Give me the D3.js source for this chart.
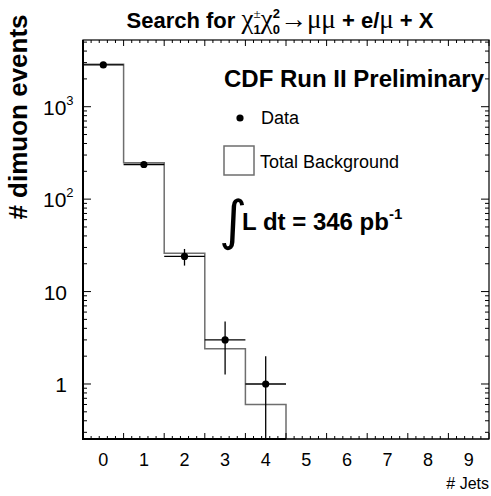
<!DOCTYPE html>
<html>
<head>
<meta charset="utf-8">
<script src="https://cdn.jsdelivr.net/npm/d3@7"></script>
<style>
  html, body { margin: 0; padding: 0; background: #fff; }
  svg { display: block; }
</style>
</head>
<body>
<script>
// Jet multiplicity bins, observed dimuon events and expected total background
const jetBins = [0, 1, 2, 3, 4, 5, 6, 7, 8, 9];
const dataCounts = [2830, 237, 24, 3, 1, 0, 0, 0, 0, 0];
const backgroundCounts = [2880, 248, 26, 2.4, 0.6, 0, 0, 0, 0, 0];
const xTickLabels = ["0", "1", "2", "3", "4", "5", "6", "7", "8", "9"];
const yMajorTicks = [1, 10, 100, 1000];
const yTickLabels = [{base: "1", exp: ""}, {base: "10", exp: ""}, {base: "10", exp: "2"}, {base: "10", exp: "3"}];

const W = 491, H = 496;
const frame = {left: 83, right: 489, top: 40, bottom: 439};
const sans = "'Liberation Sans', Arial, Helvetica, sans-serif";
const serif = "'Liberation Serif', 'Times New Roman', serif";
const bgColor = "#6e6e6e";

const svg = d3.select("body").append("svg").attr("width", W).attr("height", H);

const x = d3.scaleLinear().domain([-0.5, 9.5]).range([frame.left, frame.right]);
const y = d3.scaleLog().domain([0.254, 5270]).range([frame.bottom, frame.top]);
const yMin = y.domain()[0];
const yc = v => (v > yMin ? y(v) : frame.bottom);

// ---- background histogram (step outline) ----
const pts = [[x(-0.5), frame.bottom]];
jetBins.forEach((b, i) => {
  const v = yc(backgroundCounts[i]);
  pts.push([x(b - 0.5), v], [x(b + 0.5), v]);
});
pts.push([x(9.5), frame.bottom]);
svg.append("path")
  .attr("d", d3.line()(pts))
  .attr("fill", "none")
  .attr("stroke", bgColor)
  .attr("stroke-width", 1.5);

// ---- frame and ticks ----
svg.append("rect")
  .attr("x", frame.left).attr("y", frame.top)
  .attr("width", frame.right - frame.left).attr("height", frame.bottom - frame.top)
  .attr("fill", "none").attr("stroke", "#000").attr("stroke-width", 1.2);
svg.append("line").attr("x1", frame.left).attr("x2", frame.left)
  .attr("y1", frame.top).attr("y2", frame.bottom + 1)
  .attr("stroke", "#000").attr("stroke-width", 2);
svg.append("line").attr("x1", frame.left - 1).attr("x2", x(4.5))
  .attr("y1", frame.bottom).attr("y2", frame.bottom)
  .attr("stroke", "#000").attr("stroke-width", 2);

const ticks = svg.append("g").attr("stroke", "#000").attr("stroke-width", 1);
// x: major every bin edge, minor every 0.2
d3.range(0, 51).forEach(k => {
  const v = -0.5 + k * 0.2;
  const major = k % 5 === 0;
  const len = major ? 6 : 3;
  const px = x(v);
  ticks.append("line").attr("x1", px).attr("x2", px)
    .attr("y1", frame.bottom).attr("y2", frame.bottom - len);
  ticks.append("line").attr("x1", px).attr("x2", px)
    .attr("y1", frame.top).attr("y2", frame.top + len);
});
// y: log ticks, major at decades, minor at 2..9
const yTicks = [];
[0.1, 1, 10, 100, 1000].forEach(d => {
  for (let m = 1; m <= 9; m++) {
    const v = d * m;
    if (v >= yMin && v <= y.domain()[1]) yTicks.push({v, major: m === 1});
  }
});
yTicks.forEach(t => {
  const py = y(t.v);
  const len = t.major ? 8 : 4;
  ticks.append("line").attr("x1", frame.left).attr("x2", frame.left + len)
    .attr("y1", py).attr("y2", py);
  ticks.append("line").attr("x1", frame.right).attr("x2", frame.right - len)
    .attr("y1", py).attr("y2", py);
});

// ---- tick labels ----
svg.append("g").selectAll("text").data(jetBins).join("text")
  .attr("x", d => x(d)).attr("y", 466)
  .attr("text-anchor", "middle")
  .attr("font-family", sans).attr("font-size", 18)
  .text((d, i) => xTickLabels[i]);

const yl = svg.append("g").attr("font-family", sans).attr("font-size", 21);
yMajorTicks.forEach((v, i) => {
  const lab = yTickLabels[i];
  const t = yl.append("text").attr("x", 67).attr("y", y(v) + 8)
    .attr("text-anchor", "end");
  t.append("tspan").text(lab.base);
  if (lab.exp) {
    t.attr("text-anchor", "start").attr("x", 43);
    t.append("tspan").attr("dy", -10).attr("font-size", 13).text(lab.exp);
  }
});

// ---- axis titles ----
svg.append("text")
  .attr("transform", "translate(27,117) rotate(-90)")
  .attr("text-anchor", "middle")
  .attr("font-family", sans).attr("font-weight", "bold").attr("font-size", 26)
  .text("# dimuon events");
svg.append("text")
  .attr("x", 489).attr("y", 489).attr("text-anchor", "end")
  .attr("font-family", sans).attr("font-size", 16)
  .text("# Jets");

// ---- data points with error bars ----
const dg = svg.append("g").attr("stroke", "#000").attr("stroke-width", 1.3);
jetBins.forEach((b, i) => {
  const n = dataCounts[i];
  if (n <= 0) return;
  const err = Math.sqrt(n);
  dg.append("line").attr("x1", x(b - 0.5)).attr("x2", x(b + 0.5))
    .attr("y1", y(n)).attr("y2", y(n));
  dg.append("line").attr("x1", x(b)).attr("x2", x(b))
    .attr("y1", y(n + err)).attr("y2", yc(n - err));
  svg.append("circle").attr("cx", x(b)).attr("cy", y(n)).attr("r", 3.6).attr("fill", "#000");
});

// ---- title: one text element, tspans placed from measured widths ----
function richText(parent, pieces, cx, baseline) {
  const probe = parent.append("text").attr("visibility", "hidden");
  const measure = (str, fam, weight, size) => {
    probe.attr("font-family", fam).attr("font-weight", weight).attr("font-size", size)
      .style("white-space", "pre").text(str);
    return probe.node().getComputedTextLength();
  };
  const spans = [];
  let cursor = 0;
  pieces.forEach(p => {
    if (p.t !== undefined) {
      const fam = p.serif ? serif : sans, wt = p.bold ? "bold" : "normal";
      spans.push({str: p.t, fam, wt, size: p.size, dx: cursor, y: baseline});
      cursor += measure(p.t, fam, wt, p.size);
    } else {
      const supFam = p.supSerif ? serif : sans, supWt = p.supBold ? "bold" : "normal";
      spans.push({str: p.sup, fam: supFam, wt: supWt, size: p.size, dx: cursor, y: baseline - p.up});
      spans.push({str: p.sub, fam: sans, wt: "bold", size: p.size, dx: cursor, y: baseline + p.down});
      cursor += Math.max(measure(p.sup, supFam, supWt, p.size), measure(p.sub, sans, "bold", p.size));
    }
  });
  probe.remove();
  const x0 = cx - cursor / 2;
  const t = parent.append("text").style("white-space", "pre");
  spans.forEach(s => {
    t.append("tspan").attr("x", x0 + s.dx).attr("y", s.y)
      .attr("font-family", s.fam).attr("font-weight", s.wt).attr("font-size", s.size)
      .text(s.str);
  });
}

richText(svg, [
  {t: "Search for ", bold: true, size: 22},
  {t: "\u03c7", serif: true, size: 27},
  {sup: "\u00b1", sub: "1", size: 13, up: 10, down: 6, supSerif: true},
  {t: "\u03c7", serif: true, size: 27},
  {sup: "2", sub: "0", size: 13, up: 10, down: 6, supBold: true},
  {t: "\u2192\u03bc\u03bc", serif: true, size: 27},
  {t: " + e/", bold: true, size: 22},
  {t: "\u03bc", serif: true, size: 27},
  {t: " + X", bold: true, size: 22}
], 280, 28);

// ---- labels inside the frame ----
svg.append("text").attr("x", 224).attr("y", 87)
  .attr("font-family", sans).attr("font-weight", "bold").attr("font-size", 24)
  .text("CDF Run II Preliminary");

svg.append("circle").attr("cx", 240).attr("cy", 118).attr("r", 3.6).attr("fill", "#000");
svg.append("text").attr("x", 261).attr("y", 124)
  .attr("font-family", sans).attr("font-size", 18).text("Data");

svg.append("rect").attr("x", 224).attr("y", 146).attr("width", 30).attr("height", 29)
  .attr("fill", "none").attr("stroke", bgColor).attr("stroke-width", 1.5);
svg.append("text").attr("x", 260).attr("y", 168)
  .attr("font-family", sans).attr("font-size", 18).text("Total Background");

// integrated luminosity
const lum = svg.append("text").attr("y", 230)
  .attr("font-family", sans).attr("font-weight", "bold").attr("font-size", 24);
lum.append("tspan").attr("x", 219).attr("y", 238.5)
  .attr("font-family", "'DejaVu Sans', sans-serif").attr("font-weight", "normal")
  .attr("font-size", 54).text("\u222b");
lum.append("tspan").attr("x", 242).attr("y", 230).text("L dt = 346 pb");
lum.append("tspan").attr("dy", -11).attr("font-size", 15).text("-1");
</script>
</body>
</html>
